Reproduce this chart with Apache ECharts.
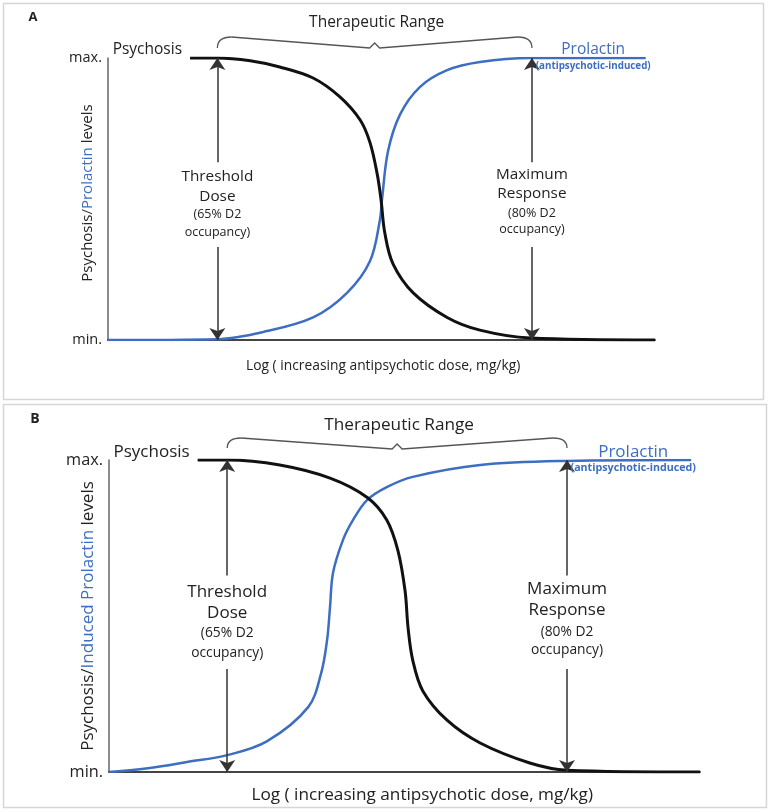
<!DOCTYPE html>
<html><head><meta charset="utf-8">
<script src="https://cdn.jsdelivr.net/npm/echarts@6/dist/echarts.min.js"></script>
<style>html,body{margin:0;padding:0;background:#fff}#c{width:772px;height:812px}</style>
</head><body><div id="c"></div>
<script>
// ---------- data (dose on an arbitrary log scale 0..100, level 0=min .. 100=max) ----------
// Panel A
const doseA_psychosis  = [15, 20, 26, 31.4, 37.5, 42.4, 46.1, 47.9, 49.2, 49.9, 50.6, 52.1, 55.8, 62, 68, 77.2, 100];
const levelA_psychosis = [100, 100, 99, 96.8, 92.9, 86.2, 78, 70, 59, 50, 38, 27, 16.7, 8, 3.5, 0.7, 0];
const doseA_prolactin  = [0, 20, 28.3, 37.5, 43.7, 47.9, 49.7, 50.1, 51.2, 53.4, 57, 62, 68, 77.2, 98.3];
const levelA_prolactin = [0, 0.3, 2.8, 8, 16.7, 28, 42.5, 50, 67, 80, 89.7, 95.7, 98.6, 100, 100];
// Panel B
const doseB_psychosis  = [15, 20, 28.9, 37.4, 43.7, 47, 48.9, 50.1, 50.6, 51.4, 53.1, 57.2, 62.8, 71.2, 77.5, 100];
const levelB_psychosis = [100, 100, 98.4, 94.2, 88, 80.8, 70.9, 58, 46.3, 35.8, 26, 16.6, 9.3, 2.9, 0.6, 0];
const doseB_prolactin  = [0, 6.9, 13.2, 20, 26.7, 33.7, 35.9, 36.9, 37.4, 37.9, 39.6, 41.3, 43.7, 47, 51.4, 62.8, 77.5, 98.5];
const levelB_prolactin = [0, 1.3, 3.2, 5.4, 9.8, 20.8, 31.7, 42.3, 52.9, 63.8, 74.4, 80.8, 87.2, 91.3, 94.6, 98.4, 99.7, 100];
// annotation doses
const thresholdDose = 20;
const maxResponseDose = 77.5;
const psychosisStart = 15;
// tick labels
const yTickLabels = {0: 'min.', 100: 'max.'};
// texts
const thresholdLines = ['Threshold', 'Dose', '(65% D2', 'occupancy)'];
const maxLines = ['Maximum', 'Response', '(80% D2', 'occupancy)'];
const xTitle = 'Log ( increasing antipsychotic dose, mg/kg)';

// ---------- style ----------
const FONT = '"Open Sans", "Noto Sans", sans-serif';
const INK = '#222';
const BLUE = '#3d6ec1';
const panels = [
  {gi: 0, letter: 'A', grid: {left: 108, top: 58, width: 547, height: 282}, big: 15.3, small: 12.5, tick: 14.5,
   yName: ['Psychosis/', 'Prolactin', ' levels'], yNameSize: 15, yNameX: 88, yNameShift: -6, xTitleSize: 13.8, xTitleDose: 50.3, xTitleOff: 26,
   box: {x: 3.5, y: 3.5, width: 760, height: 396}, letterPos: [33, 17], letterSize: 13,
   trSize: 15.5, psySize: 15.5, proSize: 15.5, subSize: 9.8, braceOff: [-10, -21], trOff: -35},
  {gi: 1, letter: 'B', grid: {left: 109, top: 460, width: 591, height: 312}, big: 17, small: 13.8, tick: 16.3,
   yName: ['Psychosis/', 'Induced Prolactin', ' levels'], yNameSize: 17, yNameX: 88, yNameShift: 0, xTitleSize: 17.2, xTitleDose: 53, xTitleOff: 23,
   box: {x: 3.5, y: 404.5, width: 763, height: 403}, letterPos: [35, 419], letterSize: 14,
   trSize: 17.2, psySize: 17, proSize: 17, subSize: 10.7, braceOff: [-12, -22], trOff: -35}
];

const chart = echarts.init(document.getElementById('c'));
const zip = (xs, ys) => xs.map((x, i) => [x, ys[i]]);
function curve(xs, ys, gi, color, width) {
  return {
    type: 'line', xAxisIndex: gi, yAxisIndex: gi, data: zip(xs, ys), showSymbol: false, symbol: 'none',
    smooth: 0.35, lineStyle: {color, width}, silent: true, z: 3, animation: false
  };
}
function arrows(gi) {
  const m = (x, y0, y1) => [{coord: [x, y0]}, {coord: [x, y1]}];
  return {
    type: 'line', xAxisIndex: gi, yAxisIndex: gi, data: [], silent: true, animation: false,
    markLine: {
      silent: true, animation: false, symbol: ['none', 'arrow'], symbolSize: 12,
      lineStyle: {color: '#333', width: 1.5, type: 'solid'}, label: {show: false},
      emphasis: {disabled: true},
      data: [m(thresholdDose, 63, 100), m(thresholdDose, 33, 0), m(maxResponseDose, 63, 100), m(maxResponseDose, 33, 0)]
    }
  };
}

const option = {
  backgroundColor: '#fff',
  animation: false,
  grid: panels.map(p => Object.assign({containLabel: false}, p.grid)),
  xAxis: panels.map(p => ({
    type: 'value', gridIndex: p.gi, min: 0, max: 100,
    axisLine: {show: true, lineStyle: {color: '#444', width: 2}}, axisTick: {show: false},
    axisLabel: {show: false}, splitLine: {show: false}
  })),
  yAxis: panels.map(p => ({
    type: 'value', gridIndex: p.gi, min: 0, max: 100, interval: 100,
    axisLine: {show: true, lineStyle: {color: '#666', width: 1.5}}, axisTick: {show: false}, splitLine: {show: false},
    axisLabel: {formatter: v => yTickLabels[v] || '', color: INK, fontSize: p.tick, fontFamily: FONT, margin: 6}
  })),
  series: [
    curve(doseA_prolactin, levelA_prolactin, 0, BLUE, 2.5),
    curve(doseA_psychosis, levelA_psychosis, 0, '#111', 3),
    arrows(0),
    curve(doseB_prolactin, levelB_prolactin, 1, BLUE, 2.5),
    curve(doseB_psychosis, levelB_psychosis, 1, '#111', 3),
    arrows(1)
  ]
};
chart.setOption(option);

// ---------- annotations positioned through the axes ----------
const g = [];
const txt = (x, y, text, size, opts) => g.push({
  type: 'text', x, y, silent: true, z: 10,
  style: Object.assign({text, fill: INK, fontSize: size, fontFamily: FONT, align: 'center', verticalAlign: 'middle'}, opts || {})
});
const braceStyle = {fill: null, stroke: '#555', lineWidth: 1.3};
const thrY = [57.8, 50.8, 44.4, 38.1];
const maxY = [58.7, 51.8, 45, 39.2];
panels.forEach(p => {
  const P = (x, y) => chart.convertToPixel({gridIndex: p.gi}, [x, y]);
  g.push({type: 'rect', silent: true, shape: p.box, style: {fill: null, stroke: '#d6d6d6', lineWidth: 1.5}});
  txt(p.letterPos[0], p.letterPos[1], p.letter, p.letterSize, {fontWeight: 'bold'});
  thresholdLines.forEach((t, i) => {
    const q = P(thresholdDose, thrY[i]);
    txt(q[0], q[1], t, i < 2 ? p.big : p.small);
  });
  maxLines.forEach((t, i) => {
    const q = P(maxResponseDose, maxY[i]);
    txt(q[0], q[1], t, i < 2 ? p.big : p.small);
  });
  const top = P(psychosisStart, 100);
  txt(top[0] - 8, top[1] - 8, 'Psychosis', p.psySize, {align: 'right'});
  const pro = P(88.7, 100);
  txt(pro[0], pro[1] - 8, 'Prolactin', p.proSize, {fill: BLUE});
  txt(pro[0], pro[1] + 8, '(antipsychotic-induced)', p.subSize, {fill: BLUE, fontWeight: 'bold'});
  // brace over the therapeutic range
  const L = P(thresholdDose, 100)[0], R = P(maxResponseDose, 100)[0];
  const C = (L + R) / 2, yb = top[1] + p.braceOff[0], yt = top[1] + p.braceOff[1];
  g.push({type: 'bezierCurve', silent: true, shape: {x1: L, y1: yb, cpx1: L, cpy1: yt, x2: L + 14, y2: yt}, style: braceStyle});
  g.push({type: 'bezierCurve', silent: true, shape: {x1: R - 14, y1: yt, cpx1: R, cpy1: yt, x2: R, y2: yb}, style: braceStyle});
  g.push({type: 'polyline', silent: true, shape: {points: [[L + 14, yt], [C - 5, yt + 11], [C, yt + 6], [C + 5, yt + 11], [R - 14, yt]]}, style: braceStyle});
  txt(C + 2, top[1] + p.trOff, 'Therapeutic Range', p.trSize);
  // axis titles
  const xt = P(p.xTitleDose, 0);
  txt(xt[0], xt[1] + p.xTitleOff, xTitle, p.xTitleSize);
  const ym = P(0, 50);
  g.push({
    type: 'text', x: p.yNameX, y: ym[1] + p.yNameShift, rotation: Math.PI / 2, silent: true, z: 10,
    style: {
      text: '{a|' + p.yName[0] + '}{b|' + p.yName[1] + '}{a|' + p.yName[2] + '}',
      align: 'center', verticalAlign: 'middle',
      rich: {
        a: {fill: INK, fontSize: p.yNameSize, fontFamily: FONT},
        b: {fill: BLUE, fontSize: p.yNameSize, fontFamily: FONT}
      }
    }
  });
});
chart.setOption({graphic: g});
</script>
</body></html>
